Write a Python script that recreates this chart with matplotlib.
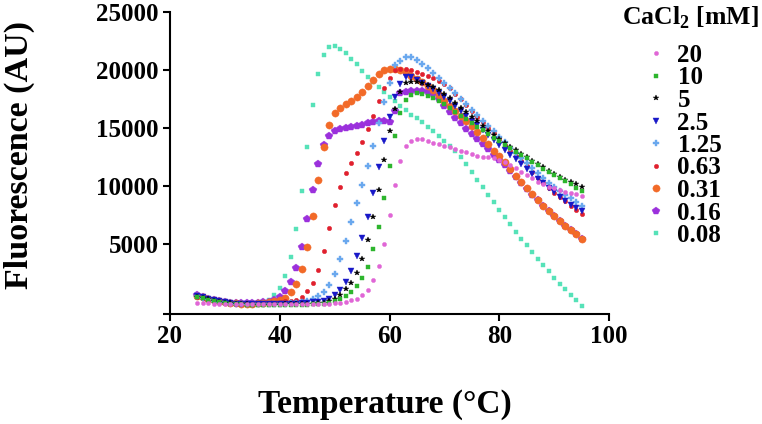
import matplotlib
matplotlib.use('Agg')
import matplotlib.pyplot as plt
import numpy as np

plt.rcParams['font.family'] = ['Liberation Serif', 'DejaVu Serif']
plt.rcParams['font.weight'] = 'bold'
plt.rcParams['mathtext.fontset'] = 'custom'
plt.rcParams['mathtext.rm'] = 'Liberation Serif:bold'
plt.rcParams['mathtext.bf'] = 'Liberation Serif:bold'

# temperature steps, 25..95 C
temp = np.arange(25, 96)

labels = ['20', '10', '5', '2.5', '1.25', '0.63', '0.31', '0.16', '0.08']

# fluorescence (AU), one value per degree
f_20 = [-60, -70, -90, -110, -130, -150, -160, -170, -170, -180, -180, -180, -180, -180, -180,
        -180, -180, -170, -170, -160, -150, -140, -130, -120, -100, -60, -40, 20, 170, 320,
        600, 1090, 1900, 3130, 5030, 7500, 10090, 12180, 13450, 13900, 14050, 14020, 13880, 13730, 13590,
        13480, 13330, 13190, 13040, 12900, 12760, 12610, 12530, 12470, 12390, 12240, 12040, 11810, 11520, 11230,
        10950, 10660, 10370, 10150, 9940, 9800, 9650, 9510, 9370, 9280, 9160]
f_10 = [460, 350, 230, 120, 30, -40, -100, -150, -180, -200, -210, -220, -220, -230, -230,
        -230, -230, -230, -220, -210, -200, -180, -150, -110, -60, 110, 300, 540, 890, 1380,
        2080, 3000, 4570, 6490, 8940, 11690, 14310, 16320, 17410, 17840, 17990, 17930, 17780, 17560, 17350,
        17050, 16720, 16400, 16070, 15760, 15430, 15120, 14800, 14490, 14170, 13870, 13570, 13260, 12970, 12670,
        12380, 12080, 11800, 11510, 11240, 10950, 10680, 10400, 10140, 9860, 9600]
f_5 = [500, 380, 250, 140, 50, -20, -80, -130, -160, -180, -190, -200, -200, -200, -200,
       -190, -180, -170, -160, -150, -130, -110, -80, -50, 100, 320, 660, 1120, 1700, 2530,
       3730, 5340, 7300, 9650, 12240, 14750, 16640, 18130, 18850, 18950, 18950, 18850, 18700, 18500, 18250,
       17950, 17560, 17150, 16760, 16350, 15950, 15560, 15150, 14760, 14380, 14020, 13700, 13380, 13070, 12770,
       12480, 12190, 11900, 11620, 11340, 11000, 10760, 10500, 10350, 10150, 9950]
f_2_5 = [580, 440, 300, 180, 80, 10, -50, -100, -130, -150, -160, -170, -170, -170, -160,
         -150, -140, -120, -100, -70, -30, 20, 70, 110, 320, 600, 1090, 1750, 2700, 3970,
         5540, 7350, 9420, 11640, 13880, 15920, 17680, 18820, 19350, 19370, 19100, 18850, 18600, 18330, 18000,
         17700, 17300, 16900, 16480, 16060, 15640, 15220, 14800, 14380, 13960, 13540, 13120, 12700, 12290, 11880,
         11470, 11060, 10650, 10250, 9860, 9470, 9080, 8700, 8400, 8100, 7870]
f_1_25 = [520, 400, 270, 160, 70, 0, -60, -110, -140, -150, -160, -160, -160, -150, -140,
          -120, -100, -70, -30, 30, 150, 300, 550, 890, 1490, 2400, 3700, 5260, 6870, 8510,
          10090, 11720, 13470, 15400, 17200, 18850, 20430, 20800, 21090, 21090, 20860, 20520, 20140, 19710, 19340,
          18900, 18450, 17990, 17520, 17050, 16580, 16110, 15640, 15170, 14700, 14230, 13770, 13310, 12860, 12420,
          11980, 11540, 11100, 10680, 10300, 9950, 9600, 9270, 8950, 8600, 8280]
f_0_63 = [480, 380, 260, 150, 60, 0, -60, -100, -120, -130, -130, -120, -100, -70, -30,
          20, 80, 140, 230, 460, 950, 1670, 2820, 4450, 6400, 8380, 9940, 11090, 12010, 12820,
          13790, 14890, 16060, 17350, 18470, 19300, 19950, 20090, 20050, 19950, 19830, 19680, 19510, 19300, 19050,
          18800, 18400, 17950, 17480, 17000, 16480, 15970, 15480, 14980, 14540, 14050, 13530, 13040, 12590, 12150,
          11700, 11200, 10720, 10280, 9850, 9420, 9080, 8730, 8300, 7930, 7590]
f_0_31 = [560, 430, 290, 170, 80, 20, -40, -80, -100, -110, -100, -80, -40, 30, 120,
          230, 370, 890, 1610, 2840, 4770, 7420, 10490, 13330, 15230, 16300, 16720, 17070, 17340, 17650,
          18090, 18600, 19140, 19630, 19970, 20110, 20110, 20000, 19820, 19510, 19220, 18940, 18650, 18270, 17840,
          17350, 16900, 16460, 16030, 15630, 15170, 14680, 14160, 13620, 13040, 12590, 12090, 11440, 10890, 10320,
          9800, 9280, 8790, 8300, 7840, 7410, 6980, 6550, 6210, 5840, 5430]
f_0_16 = [660, 500, 330, 200, 90, 20, -30, -70, -90, -90, -80, -50, 0, 60, 200,
          480, 1000, 1750, 2960, 4770, 7130, 9650, 11930, 13560, 14350, 14720, 14910, 15010, 15100, 15200,
          15290, 15390, 15480, 15600, 15630, 15480, 16490, 17990, 18130, 18190, 18200, 18190, 18080, 17900, 17470,
          16900, 16400, 15900, 15400, 14950, 14500, 14050, 13600, 13150, 12700, 12250, 11800, 11300, 10800, 10280,
          9780, 9270, 8780, 8300, 7850, 7420, 6990, 6570, 6220, 5860, 5460]
f_0_08 = [450, 340, 220, 120, 50, 0, -50, -80, -100, -100, -80, -40, 40, 230, 620,
          1250, 2280, 3920, 6350, 9570, 13360, 16950, 19680, 21260, 21930, 22010, 21780, 21440, 20950, 20490,
          19940, 19420, 18990, 18560, 18130, 17700, 17330, 16920, 16550, 16150, 15830, 15490, 15110, 14740, 14310,
          13880, 13450, 12990, 12500, 11900, 11230, 10540, 9890, 9220, 8590, 7930, 7330, 6720, 6090, 5490,
          4910, 4340, 3760, 3190, 2670, 2130, 1610, 1150, 660, 170, -290]

series = [f_20, f_10, f_5, f_2_5, f_1_25, f_0_63, f_0_31, f_0_16, f_0_08]
colors = ['#E066D6', '#2DB52D', '#000000', '#1818C8', '#6AA8EE', '#E0202E', '#F26A28', '#9B30DC', '#56E2B8']
markers = ['o', 's', '*', 'v', 'P', 'o', 'o', 'p', 's']
sizes = [3.0, 3.3, 4.0, 4.0, 3.8, 3.2, 5.2, 5.6, 3.1]

fig = plt.figure(figsize=(7.62, 4.24), dpi=100)
ax = fig.add_axes([170 / 762, 110 / 424, 439 / 762, 302.3 / 424])

handles = []
# draw 0.08 first so the higher concentrations sit on top
for i in range(len(series) - 1, -1, -1):
    h, = ax.plot(temp, series[i], linestyle='none', marker=markers[i], ms=sizes[i],
                 color=colors[i], mec=colors[i], mew=0.3, label=labels[i])
    handles.append(h)
handles = handles[::-1]

ax.set_xlim(20, 100)
ax.set_ylim(-1000, 25000)
ax.set_xticks([20, 40, 60, 80, 100])
ax.set_yticks([-1000, 5000, 10000, 15000, 20000, 25000])
ax.set_yticklabels(['', '5000', '10000', '15000', '20000', '25000'])

for s in ['top', 'right']:
    ax.spines[s].set_visible(False)
for s in ['left', 'bottom']:
    ax.spines[s].set_linewidth(1.5)
ax.tick_params(direction='out', length=5, width=1.5, labelsize=18, pad=3)
for t in ax.get_xticklabels() + ax.get_yticklabels():
    t.set_fontweight('bold')

fig.text(0.025, 1 - 155 / 424, 'Fluorescence (AU)', rotation=90, fontsize=24.5,
         fontweight='bold', ha='center', va='center')
fig.text(385 / 762, 1 - 405 / 424, 'Temperature (°C)', fontsize=24, fontweight='bold',
         ha='center', va='center')

fig.text(622 / 762, 1 - 18 / 424, r'CaCl$_{\mathbf{2}}$ [mM]', fontsize=18.5, fontweight='bold',
         ha='left', va='center')
leg = fig.legend(handles=handles, labels=labels, loc='upper left',
                 bbox_to_anchor=(645 / 762, 1 - 44 / 424), frameon=False, fontsize=18,
                 handlelength=0.9, handletextpad=0.4, labelspacing=-0.02, borderpad=0,
                 borderaxespad=0, markerscale=1.0)
for t in leg.get_texts():
    t.set_fontweight('bold')

fig.savefig('out.png', dpi=100)
